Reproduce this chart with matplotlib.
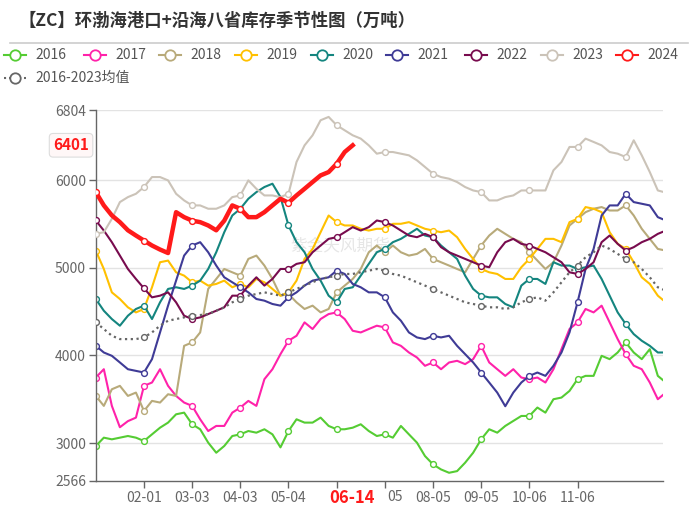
import numpy as np
import matplotlib
matplotlib.use("Agg")
import matplotlib.pyplot as plt

plt.rcParams['font.family'] = ['Noto Sans CJK SC', 'DejaVu Sans']

# ---------------- data ----------------
title = "【ZC】环渤海港口+沿海八省库存季节性图（万吨）"
series_names = ["2016", "2017", "2018", "2019", "2020", "2021", "2022", "2023", "2024", "2016-2023均值"]
tick_days = [31, 62, 93, 124, 155, 186, 217, 248, 279, 310]
tick_labels = ["02-01", "03-03", "04-03", "05-04", "", "", "08-05", "09-05", "10-06", "11-06"]
partial_label = "05"          # visible part of the 07-05 label, partly hidden by the 06-14 marker label
y_ticks = [2566, 3000, 4000, 5000, 6000, 6804]
current_label = "06-14"
current_day = 165
last_value = 6401
step = 31 / 6  # days between samples

d2016 = [2966, 3061, 3042, 3061, 3080, 3061, 3023, 3099, 3175, 3233, 3328, 3347, 3214, 3157, 3004, 2889, 2966, 3080,
         3099, 3137, 3118, 3157, 3099, 2950, 3137, 3271, 3233, 3233, 3290, 3195, 3157, 3157, 3175, 3214, 3137, 3080,
         3099, 3061, 3195, 3099, 3004, 2851, 2756, 2698, 2660, 2679, 2775, 2889, 3042, 3157, 3118, 3195, 3252, 3309,
         3309, 3405, 3347, 3500, 3519, 3595, 3729, 3767, 3767, 3996, 3958, 4034, 4149, 4034, 3958, 4072, 3767, 3691]
d2017 = [3748, 3843, 3424, 3180, 3250, 3290, 3653, 3691, 3843, 3653, 3538, 3462, 3424, 3271, 3137, 3195, 3195, 3347,
         3405, 3481, 3424, 3729, 3843, 4015, 4168, 4225, 4378, 4302, 4416, 4473, 4492, 4416, 4282, 4263, 4302, 4340,
         4320, 4149, 4110, 4034, 3977, 3882, 3920, 3843, 3920, 3939, 3901, 3958, 4110, 3920, 3843, 3767, 3843, 3748,
         3729, 3748, 3691, 3843, 4072, 4302, 4378, 4531, 4492, 4569, 4378, 4187, 4015, 3882, 3843, 3691, 3500, 3576]
d2018 = [3538, 3424, 3614, 3653, 3538, 3576, 3366, 3481, 3462, 3557, 3538, 4110, 4149, 4263, 4760, 4874, 4988, 4950,
         4912, 5103, 5141, 5027, 4874, 4683, 4702, 4607, 4531, 4569, 4492, 4531, 4721, 4798, 4874, 4988, 5179, 5256,
         5179, 5256, 5179, 5141, 5160, 5217, 5103, 5065, 5027, 4988, 4950, 5103, 5256, 5370, 5447, 5389, 5332, 5294,
         5179, 5084, 4988, 5065, 5256, 5485, 5561, 5637, 5676, 5695, 5656, 5656, 5714, 5599, 5447, 5332, 5217, 5198]
d2019 = [5198, 4988, 4721, 4645, 4550, 4492, 4531, 4779, 5065, 5084, 4950, 4912, 4836, 4855, 4798, 4817, 4855, 4779,
         4817, 4779, 4874, 4836, 4760, 4683, 4721, 4855, 5103, 5217, 5408, 5599, 5523, 5485, 5485, 5447, 5427, 5447,
         5447, 5504, 5504, 5523, 5485, 5447, 5427, 5408, 5427, 5351, 5217, 5103, 4988, 4950, 4931, 4874, 4874, 5008,
         5103, 5217, 5332, 5332, 5294, 5523, 5561, 5695, 5676, 5637, 5408, 5275, 5217, 5065, 4893, 4817, 4683, 4607]
d2020 = [4645, 4511, 4416, 4340, 4454, 4531, 4569, 4416, 4607, 4760, 4779, 4760, 4798, 4855, 4988, 5179, 5408, 5599,
         5676, 5790, 5866, 5924, 5962, 5809, 5485, 5294, 5179, 4988, 4855, 4683, 4607, 4760, 4779, 4912, 5046, 5179,
         5217, 5294, 5332, 5389, 5447, 5370, 5351, 5256, 5179, 5103, 4912, 4760, 4683, 4664, 4664, 4588, 4550, 4798,
         4874, 4874, 4817, 5065, 5027, 5027, 4988, 5008, 5027, 4874, 4683, 4492, 4359, 4244, 4168, 4110, 4034, 4034]
d2021 = [4110, 4034, 3996, 3920, 3843, 3824, 3805, 3958, 4263, 4569, 4855, 5141, 5256, 5294, 5179, 5027, 4893, 4836,
         4779, 4721, 4645, 4626, 4588, 4569, 4664, 4721, 4798, 4855, 4874, 4893, 4969, 4931, 4817, 4779, 4721, 4721,
         4664, 4492, 4397, 4263, 4206, 4187, 4225, 4206, 4225, 4110, 4015, 3920, 3805, 3691, 3576, 3420, 3576, 3691,
         3767, 3805, 3767, 3882, 4034, 4263, 4607, 4988, 5217, 5599, 5714, 5714, 5847, 5752, 5733, 5714, 5580, 5542]
d2022 = [5542, 5427, 5294, 5141, 4988, 4874, 4767, 4664, 4683, 4721, 4607, 4454, 4416, 4435, 4473, 4511, 4550, 4683,
         4683, 4798, 4893, 4798, 4874, 4988, 4988, 5046, 5065, 5179, 5256, 5332, 5351, 5408, 5466, 5427, 5466, 5542,
         5523, 5485, 5427, 5370, 5351, 5389, 5351, 5237, 5179, 5141, 5103, 5065, 5027, 5008, 5179, 5294, 5332, 5275,
         5256, 5217, 5179, 5122, 5065, 4950, 4931, 4988, 5065, 5294, 5370, 5275, 5198, 5237, 5294, 5332, 5389, 5427]
d2023 = [5389, 5408, 5561, 5752, 5809, 5847, 5924, 6038, 6038, 6000, 5847, 5771, 5714, 5714, 5676, 5676, 5714, 5809,
         5828, 6000, 5904, 5828, 5828, 5809, 5847, 6210, 6400, 6515, 6687, 6725, 6630, 6572, 6515, 6477, 6400, 6305,
         6324, 6324, 6305, 6286, 6229, 6153, 6076, 6038, 6019, 5981, 5924, 5885, 5866, 5771, 5771, 5809, 5828, 5885,
         5885, 5885, 5885, 6115, 6210, 6382, 6382, 6477, 6439, 6400, 6324, 6305, 6267, 6458, 6286, 6095, 5885, 5860]
d2024 = [5866, 5714, 5600, 5523, 5430, 5370, 5313, 5256, 5210, 5170, 5637, 5580, 5540, 5523, 5485, 5430, 5540, 5714,
         5676, 5580, 5580, 5637, 5714, 5790, 5745, 5828, 5904, 5981, 6057, 6095, 6190, 6324, 6401]
d_avg = [4378, 4302, 4225, 4187, 4187, 4187, 4206, 4263, 4340, 4397, 4416, 4435, 4454, 4462, 4473, 4511, 4550, 4607,
         4645, 4683, 4702, 4721, 4702, 4683, 4721, 4760, 4798, 4836, 4874, 4893, 4912, 4931, 4931, 4950, 4969, 4988,
         4969, 4931, 4912, 4874, 4836, 4798, 4760, 4721, 4683, 4645, 4607, 4588, 4569, 4550, 4550, 4531, 4550, 4607,
         4645, 4664, 4626, 4721, 4836, 4950, 5027, 5122, 5179, 5256, 5217, 5160, 5103, 5065, 4988, 4893, 4779, 4740]

colors = ["#55cc33", "#ff22aa", "#b8aa7a", "#ffc000", "#14857f", "#3f3b96", "#780b4e", "#cbc3b8", "#ff1a1a", "#666666"]
all_data = [d2016, d2017, d2018, d2019, d2020, d2021, d2022, d2023, d2024, d_avg]

# ---------------- figure ----------------
fig = plt.figure(figsize=(7.0, 5.08), dpi=100)
W, H = 700, 508
x0, x1, ytop, ybot = 95.8, 663, 110, 481
ax = fig.add_axes([x0 / W, 1 - ybot / H, (x1 - x0) / W, (ybot - ytop) / H])

for k, (name, data, col) in enumerate(zip(series_names, all_data, colors)):
    xs = np.arange(len(data)) * step
    lw = 1.5
    ls = '-'
    z = 2 + k * 0.1
    if name == "2024":
        lw = 3.2
        z = 5
    if name.endswith("均值"):
        ls = (0, (1, 1.6))
        lw = 1.6
        z = 4
    ax.plot(xs, data, color=col, lw=lw, ls=ls, zorder=z, solid_joinstyle='round',
            marker='o', markevery=6, markersize=4.2, markerfacecolor='white',
            markeredgecolor=col, markeredgewidth=1.0)

ax.set_xlim(0, 365)
ax.set_ylim(2566, 6804)
ax.set_yticks(y_ticks)
ax.set_yticklabels([str(v) for v in y_ticks])
ax.set_xticks(tick_days)
ax.set_xticklabels(tick_labels)
for v in y_ticks[1:]:
    ax.axhline(v, color='#e3e3e3', lw=1.0, zorder=0)

for s in ['top', 'right']:
    ax.spines[s].set_visible(False)
for s in ['left', 'bottom']:
    ax.spines[s].set_color('#666666')
    ax.spines[s].set_linewidth(1.0)
ax.tick_params(axis='both', colors='#666666', labelcolor='#666666', labelsize=10, length=5, width=1, pad=2)

# watermark
ax.text(0.43, 0.635, "紫金天风期货", transform=ax.transAxes, fontsize=12, color='#e6e6e6',
        ha='center', va='center', zorder=1)

# visible remainder of the 07-05 label
xt = ax.get_xaxis_transform()
ax.text(197.6, 0, partial_label, transform=xt, ha='right', va='top', fontsize=10, color='#666666',
        clip_on=False)
for t in ax.texts[-1:]:
    t.set_y(0)
import matplotlib.transforms as mtransforms
ax.texts[-1].set_transform(xt + mtransforms.ScaledTranslation(0, -9 / 100, fig.dpi_scale_trans))

# current date label on x axis
ax.text(current_day, 0, current_label, transform=xt + mtransforms.ScaledTranslation(0, -8 / 100, fig.dpi_scale_trans),
        ha='center', va='top', fontsize=12, fontweight='bold', color='#ff1a1a', zorder=10, clip_on=False)
# last value label on y axis
ax.text(-0.012, last_value, str(last_value), transform=ax.get_yaxis_transform(), ha='right', va='center',
        fontsize=11, fontweight='bold', color='#ff1a1a', zorder=10, clip_on=False,
        bbox=dict(boxstyle='round,pad=0.25', fc='#fff7f7', ec='#dddddd', lw=0.8))

# title, separator and legend in figure pixel coordinates
ov = fig.add_axes([0, 0, 1, 1], facecolor='none')
ov.set_xlim(0, W)
ov.set_ylim(H, 0)
ov.axis('off')
ov.text(18, 21, title, fontsize=12.5, fontweight='bold', color='#333333', ha='left', va='center')
ov.plot([10, 688], [43, 43], color='#cccccc', lw=1.2)

leg_pos = [(15, 55), (95, 55), (170, 55), (246, 55), (322, 55), (397, 55), (476, 55), (552, 55), (627, 55), (15, 78)]
for (mx, my), name, col in zip(leg_pos, series_names, colors):
    ls = (0, (1, 1.4)) if name.endswith("均值") else '-'
    ov.plot([mx - 11, mx + 11], [my, my], color=col, lw=1.5, ls=ls)
    ov.plot([mx], [my], marker='o', ms=7.5, mfc='white', mec=col, mew=1.3)
    ov.text(mx + 20, my, name, fontsize=10, color='#555555', ha='left', va='center')

fig.savefig("out.png", dpi=100)
